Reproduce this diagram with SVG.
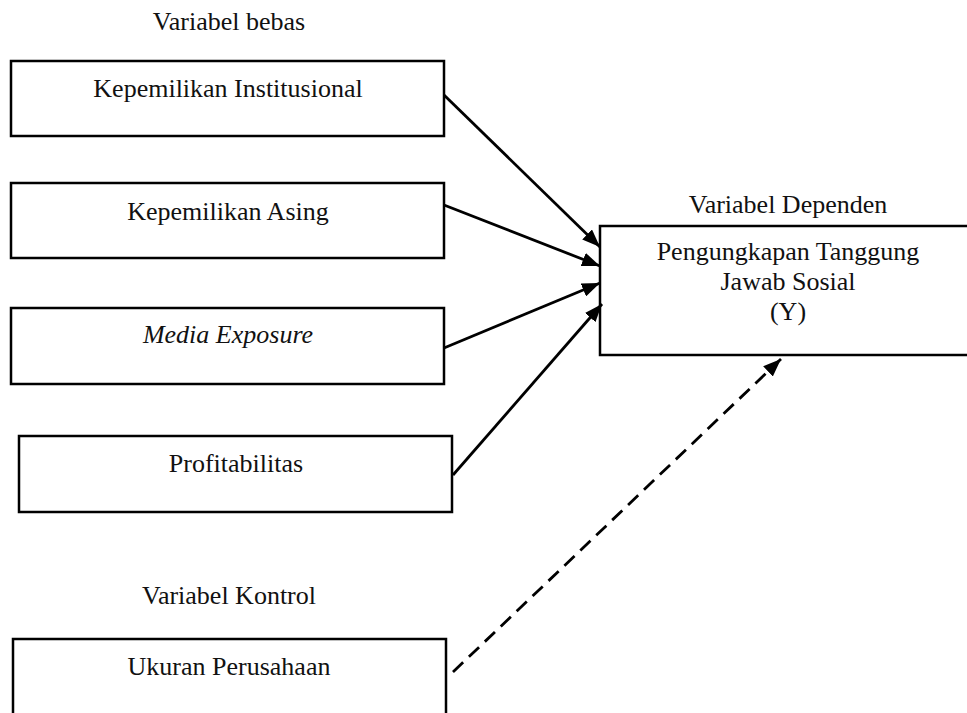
<svg xmlns="http://www.w3.org/2000/svg" width="967" height="713" viewBox="0 0 967 713">
<style>
.box{fill:#fff;stroke:#000;stroke-width:2.5}
.t{font-family:"Liberation Serif","Times New Roman",serif;font-size:26px;fill:#111;text-anchor:middle}
.c{stroke:#000;stroke-width:2.8;fill:none}
.d{stroke-dasharray:14 8}
</style>
<defs>
<marker id="ah" viewBox="0 0 18 14" refX="18" refY="7" markerWidth="18" markerHeight="14" markerUnits="userSpaceOnUse" orient="auto">
<path d="M0,0 L18,7 L0,14 Z" fill="#000"/>
</marker>
</defs>
<rect width="967" height="713" fill="#fff"/>
<text class="t" x="229" y="30">Variabel bebas</text>
<g id="n1"><rect class="box" x="11" y="61" width="433" height="75"/><text class="t" x="228" y="97">Kepemilikan Institusional</text></g>
<g id="n2"><rect class="box" x="11" y="183" width="433" height="75"/><text class="t" x="228" y="220">Kepemilikan Asing</text></g>
<g id="n3"><rect class="box" x="11" y="308" width="433" height="76"/><text class="t" x="228" y="343" font-style="italic">Media Exposure</text></g>
<g id="n4"><rect class="box" x="19" y="436" width="433" height="76"/><text class="t" x="236" y="472">Profitabilitas</text></g>
<text class="t" x="229" y="604">Variabel Kontrol</text>
<g id="n5"><rect class="box" x="13" y="639" width="433" height="90"/><text class="t" x="229" y="675">Ukuran Perusahaan</text></g>
<text class="t" x="788" y="213">Variabel Dependen</text>
<g id="ny"><rect class="box" x="600" y="226" width="380" height="129"/>
<text class="t" x="788" y="260">Pengungkapan Tanggung</text>
<text class="t" x="788" y="290">Jawab Sosial</text>
<text class="t" x="788" y="320">(Y)</text></g>
<g id="connectors">
<line class="c" x1="444" y1="95" x2="600" y2="247" marker-end="url(#ah)"/>
<line class="c" x1="444" y1="205" x2="600" y2="266" marker-end="url(#ah)"/>
<line class="c" x1="444" y1="348" x2="600" y2="283" marker-end="url(#ah)"/>
<line class="c" x1="453" y1="475" x2="602" y2="304" marker-end="url(#ah)"/>
<line class="c d" x1="453" y1="672" x2="781" y2="359" marker-end="url(#ah)"/>
</g>
</svg>
